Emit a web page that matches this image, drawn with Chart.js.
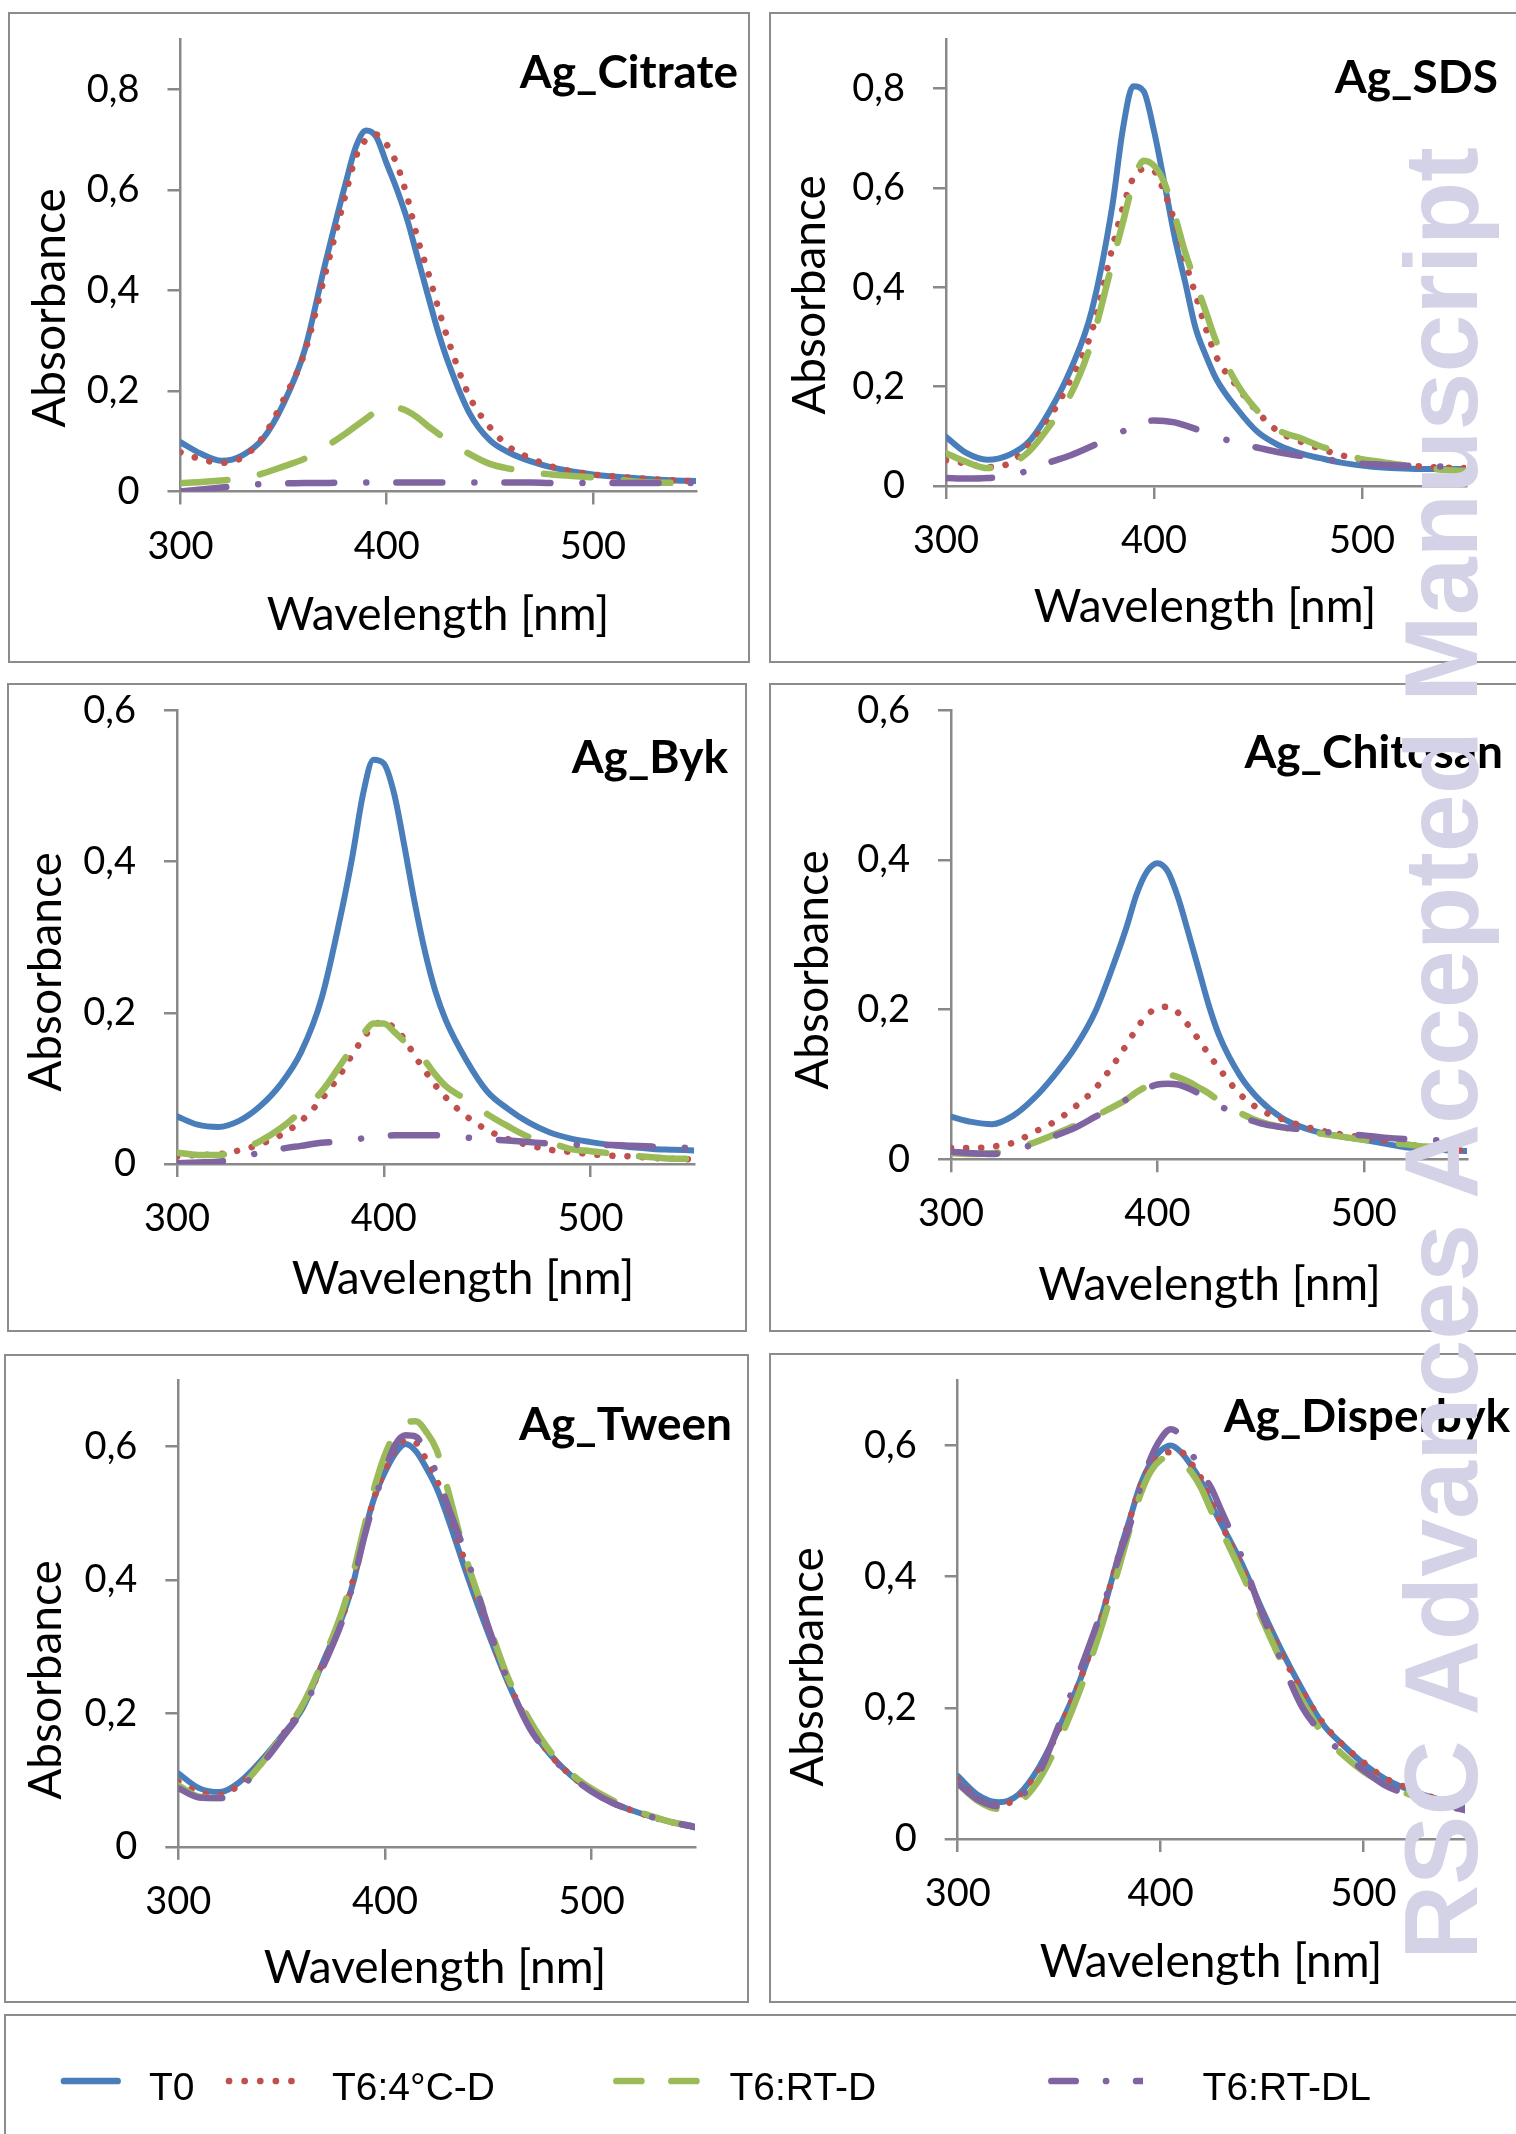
<!DOCTYPE html>
<html>
<head>
<meta charset="utf-8">
<title>UV-Vis spectra of Ag nanoparticles</title>
<script src="https://cdn.jsdelivr.net/npm/chart.js@4.4.1/dist/chart.umd.min.js"></script>
<style>
  html, body { margin: 0; padding: 0; background: #fff; }
  body { width: 1516px; height: 2134px; position: relative; overflow: hidden; }
  .panel { position: absolute; box-sizing: border-box; border: 2px solid #8c8c8c; }
  .panel canvas { position: absolute; left: -2px; top: -2px; }
  .watermark {
    position: absolute; left: 1389px; top: 1960px;
    transform-origin: 0 0; transform: rotate(-90deg);
    font: bold 104px "Liberation Sans", Arial, sans-serif; line-height: 1;
    color: #d3d2e7; white-space: nowrap; z-index: 10;
  }
</style>
</head>
<body>
<div class="watermark">RSC Advances Accepted Manuscript</div>
<script>
// ---- data (absorbance) ----
const wavelengths = [300, 310, 320, 330, 340, 350, 360, 370, 380, 385, 390, 395, 400, 405, 410, 415,
                     420, 425, 430, 440, 450, 460, 470, 480, 490, 500, 510, 520, 530, 540, 550];

const citrateT0   = [.098, .075, .061, .072, .105, .175, .278, .45, .612, .685, .718, .705, .652, .60, .54, .465, .39, .317, .255, .157, .102, .076, .06, .048, .04, .034, .03, .027, .024, .022, .021];
const citrate4CD  = [.078, .064, .057, .068, .108, .183, .274, .43, .59, .665, .70, .71, .69, .65, .585, .503, .437, .365, .299, .19, .128, .087, .066, .05, .04, .034, .03, .027, .024, .022, .02];
const citrateRTD  = [.017, .019, .022, .026, .036, .05, .065, .088, .115, .13, .145, .16, .17, .167, .16, .147, .13, .115, .1, .075, .055, .045, .038, .034, .031, .028, .025, .02, .018, .017, .016];
const citrateRTDL = [0, .004, .008, .012, .015, .016, .017, .017, .018, .018, .018, .018, .018, .018, .018, .018, .018, .018, .018, .018, .018, .018, .018, .017, .017, .017, .017, .017, .017, .017, .017];

const sdsT0   = [.099, .066, .053, .062, .09, .152, .235, .352, .565, .718, .805, .795, .715, .61, .50, .41, .318, .262, .215, .155, .108, .082, .066, .056, .047, .041, .037, .035, .034, .034, .034];
const sds4CD  = [.052, .045, .038, .045, .083, .139, .215, .31, .48, .56, .62, .638, .634, .591, .531, .453, .385, .316, .26, .2, .148, .109, .09, .075, .062, .053, .047, .042, .039, .037, .036];
const sdsRTD  = [.066, .048, .036, .042, .07, .122, .185, .29, .45, .53, .61, .655, .645, .61, .545, .47, .41, .35, .29, .205, .15, .112, .097, .08, .068, .054, .048, .042, .037, .032, .03];
const sdsRTDL = [.016, .015, .016, .02, .032, .048, .062, .08, .1, .11, .12, .128, .132, .131, .128, .122, .115, .107, .1, .086, .077, .068, .061, .055, .05, .045, .043, .041, .04, .039, .039];

const bykT0   = [.063, .052, .049, .057, .076, .105, .148, .22, .34, .41, .49, .535, .53, .49, .42, .345, .28, .228, .19, .137, .096, .073, .055, .042, .034, .029, .025, .022, .02, .019, .018];
const byk4CD  = [.01, .012, .013, .018, .026, .038, .057, .086, .123, .146, .166, .183, .188, .18, .165, .143, .123, .104, .088, .063, .045, .033, .025, .019, .016, .013, .011, .01, .008, .007, .006];
const bykRTD  = [.015, .012, .012, .018, .03, .047, .07, .096, .135, .155, .172, .186, .186, .175, .162, .149, .136, .118, .103, .085, .066, .05, .036, .029, .02, .017, .014, .011, .009, .007, .007];
const bykRTDL = [.001, .002, .003, .008, .015, .02, .024, .028, .03, .032, .034, .036, .037, .038, .038, .038, .038, .038, .037, .035, .033, .031, .029, .027, .026, .025, .025, .024, .023, .022, .021];

const chitosanT0   = [.057, .05, .047, .058, .081, .112, .149, .198, .27, .31, .355, .385, .396, .385, .35, .303, .254, .205, .165, .112, .078, .056, .043, .035, .03, .026, .021, .016, .014, .012, .011];
const chitosan4CD  = [.015, .015, .017, .022, .036, .05, .07, .095, .132, .153, .175, .193, .202, .204, .196, .179, .16, .14, .121, .087, .066, .054, .045, .038, .033, .029, .025, .02, .017, .014, .011];
const chitosanRTD  = [.008, .007, .008, .014, .022, .033, .045, .058, .072, .08, .09, .098, .106, .113, .11, .104, .096, .088, .078, .062, .05, .043, .038, .034, .03, .026, .023, .02, .017, .015, .014];
const chitosanRTDL = [.01, .008, .007, .012, .02, .031, .042, .057, .072, .08, .088, .095, .1, .101, .1, .095, .088, .08, .072, .058, .048, .043, .04, .037, .034, .032, .029, .027, .026, .025, .025];

const tweenT0   = [.11, .088, .082, .098, .129, .166, .207, .277, .35, .40, .47, .525, .562, .59, .604, .593, .568, .538, .497, .405, .32, .243, .18, .138, .107, .084, .066, .054, .044, .036, .029];
const tween4CD  = [.098, .082, .078, .094, .126, .166, .21, .275, .35, .405, .47, .525, .565, .595, .61, .606, .58, .55, .51, .415, .325, .245, .182, .138, .107, .084, .066, .054, .044, .036, .03];
const tweenRTD  = [.092, .075, .073, .09, .124, .166, .212, .28, .36, .415, .48, .54, .588, .62, .637, .638, .622, .595, .54, .425, .335, .25, .19, .143, .11, .087, .07, .056, .045, .036, .031];
const tweenRTDL = [.088, .074, .073, .088, .122, .162, .205, .27, .345, .40, .465, .52, .565, .603, .617, .615, .59, .56, .515, .43, .33, .245, .178, .137, .106, .083, .066, .054, .044, .036, .03];

const disperT0   = [.096, .067, .056, .068, .109, .17, .24, .33, .44, .49, .54, .573, .592, .60, .59, .57, .545, .51, .48, .42, .35, .285, .227, .175, .143, .115, .093, .078, .067, .058, .05];
const disper4CD  = [.09, .062, .052, .064, .105, .168, .24, .33, .44, .49, .538, .57, .585, .59, .59, .573, .55, .515, .48, .415, .347, .28, .225, .177, .143, .117, .094, .08, .068, .058, .05];
const disperRTD  = [.085, .058, .046, .055, .09, .15, .225, .315, .42, .475, .525, .56, .578, .583, .575, .56, .535, .50, .47, .405, .335, .268, .21, .16, .128, .103, .085, .071, .06, .052, .046];
const disperRTDL = [.085, .06, .05, .062, .10, .175, .255, .34, .435, .48, .535, .58, .61, .625, .615, .59, .56, .535, .50, .43, .343, .268, .20, .16, .13, .105, .083, .07, .06, .051, .044];

const seriesNames = ['T0', 'T6:4°C-D', 'T6:RT-D', 'T6:RT-DL'];
const xTicks = [300, 400, 500];
const yTicksHigh = [0, 0.2, 0.4, 0.6, 0.8];
const yTicksLow = [0, 0.2, 0.4, 0.6];

// ---- styles ----
const seriesColors = ['#4a7ebb', '#c0504d', '#9bbb59', '#8064a2'];
const seriesDash = [[], [0.1, 15], [47, 33], [46, 32, 0.1, 30]];
const legendDash = [[], [0.1, 15.5], [25, 30], [24.3, 30.3, 0.1, 30]];
const axisGray = '#898989';
const tickFont = { family: 'Lato', size: 38 };

// ---- panel layout (page coordinates) ----
const panels = [
  { title: 'Ag_Citrate', series: [citrateT0, citrate4CD, citrateRTD, citrateRTDL], yMax: 0.9, yTicks: yTicksHigh,
    box: [8, 12, 750, 663], area: [180.5, 39, 696, 491.5], titleAt: [738, 88], xTitleAt: [438, 630], yTitleAt: [65, 308] },
  { title: 'Ag_SDS', series: [sdsT0, sds4CD, sdsRTD, sdsRTDL], yMax: 0.9, yTicks: yTicksHigh,
    box: [769, 12, 1530, 663], area: [946, 39, 1466, 486], titleAt: [1498, 93], xTitleAt: [1205, 622], yTitleAt: [825, 295] },
  { title: 'Ag_Byk', series: [bykT0, byk4CD, bykRTD, bykRTDL], yMax: 0.6, yTicks: yTicksLow,
    box: [7, 683, 747, 1332], area: [177, 710.6, 694, 1164], titleAt: [728, 772.6], xTitleAt: [463, 1294], yTitleAt: [60.6, 972] },
  { title: 'Ag_Chitosan', series: [chitosanT0, chitosan4CD, chitosanRTD, chitosanRTDL], yMax: 0.6, yTicks: yTicksLow,
    box: [769, 683, 1530, 1332], area: [951, 710.6, 1467, 1159.3], titleAt: [1503, 768], xTitleAt: [1209.6, 1300], yTitleAt: [827.5, 970] },
  { title: 'Ag_Tween', series: [tweenT0, tween4CD, tweenRTD, tweenRTDL], yMax: 0.7, yTicks: yTicksLow,
    box: [4, 1354, 748.5, 2003], area: [178.3, 1380, 694.5, 1846.8], titleAt: [732, 1440], xTitleAt: [435, 1983], yTitleAt: [60.6, 1680] },
  { title: 'Ag_Disperbyk', series: [disperT0, disper4CD, disperRTD, disperRTDL], yMax: 0.7, yTicks: yTicksLow,
    box: [769, 1353, 1530, 2003], area: [957.7, 1380, 1465, 1839], titleAt: [1510, 1432], xTitleAt: [1211, 1977], yTitleAt: [822.7, 1667] }
];

// Draws panel title and axis titles at fixed spots (Excel places them freely)
const panelText = {
  id: 'panelText',
  afterDraw(chart, args, opts) {
    const ctx = chart.ctx;
    ctx.save();
    ctx.fillStyle = '#000';
    ctx.textBaseline = 'alphabetic';

    ctx.font = 'bold 46px Lato';
    ctx.textAlign = 'right';
    ctx.fillText(opts.title, opts.titleAt[0], opts.titleAt[1]);

    ctx.font = '46px Lato';
    ctx.textAlign = 'center';
    ctx.fillText('Wavelength [nm]', opts.xTitleAt[0], opts.xTitleAt[1]);

    ctx.translate(opts.yTitleAt[0], opts.yTitleAt[1]);
    ctx.rotate(-Math.PI / 2);
    ctx.fillText('Absorbance', 0, 0);
    ctx.restore();
  }
};

function formatTick(v) {
  return v === 0 ? '0' : String(v).replace('.', ',');
}

function buildPanel(p) {
  const [bl, bt, br, bb] = p.box;
  const [al, at, ar, ab] = p.area;
  const w = Math.round(br - bl), h = Math.round(bb - bt);

  const wrap = document.createElement('div');
  wrap.className = 'panel';
  wrap.style.left = bl + 'px';
  wrap.style.top = bt + 'px';
  wrap.style.width = w + 'px';
  wrap.style.height = h + 'px';
  const canvas = document.createElement('canvas');
  canvas.width = w;
  canvas.height = h;
  wrap.appendChild(canvas);
  document.body.appendChild(wrap);

  const datasets = p.series.map((values, i) => ({
    label: seriesNames[i],
    data: wavelengths.map((x, j) => ({ x: x, y: values[j] })),
    borderColor: seriesColors[i],
    borderWidth: i === 0 ? 6 : 6.5,
    borderDash: seriesDash[i],
    borderCapStyle: 'round',
    borderJoinStyle: 'round',
    cubicInterpolationMode: 'monotone',
    pointRadius: 0,
    fill: false,
    order: 3 - i
  }));

  new Chart(canvas, {
    type: 'line',
    data: { datasets: datasets },
    options: {
      responsive: false,
      maintainAspectRatio: false,
      animation: false,
      devicePixelRatio: 1,
      layout: { padding: { left: 0, bottom: 0, top: at - bt, right: br - ar } },
      plugins: {
        legend: { display: false },
        tooltip: { enabled: false },
        panelText: {
          title: p.title,
          titleAt: [p.titleAt[0] - bl, p.titleAt[1] - bt],
          xTitleAt: [p.xTitleAt[0] - bl, p.xTitleAt[1] - bt],
          yTitleAt: [p.yTitleAt[0] - bl, p.yTitleAt[1] - bt]
        }
      },
      scales: {
        x: {
          type: 'linear', min: 300, max: 550,
          afterBuildTicks: s => { s.ticks = xTicks.map(v => ({ value: v })); },
          afterFit: s => { s.height = bb - ab; s.paddingLeft = 0; s.paddingRight = 0; },
          grid: { drawOnChartArea: false, drawTicks: true, tickLength: 13, color: axisGray, lineWidth: 2.5 },
          border: { display: true, color: axisGray, width: 2.5 },
          ticks: { font: tickFont, color: '#000', padding: 19, maxRotation: 0, autoSkip: false }
        },
        y: {
          type: 'linear', min: 0, max: p.yMax,
          afterBuildTicks: s => { s.ticks = p.yTicks.map(v => ({ value: v })); },
          afterFit: s => { s.width = al - bl; s.paddingTop = 0; s.paddingBottom = 0; },
          grid: { drawOnChartArea: false, drawTicks: true, tickLength: 13, color: axisGray, lineWidth: 2.5 },
          border: { display: true, color: axisGray, width: 2.5 },
          ticks: { font: tickFont, color: '#000', padding: 28, callback: formatTick }
        }
      }
    },
    plugins: [panelText]
  });
}

panels.forEach(buildPanel);

// ---- shared legend box at the bottom ----
const legendSlots = [
  { x0: 64, x1: 117.6, textX: 149 },
  { x0: 229, x1: 291.5, textX: 332 },
  { x0: 616.4, x1: 698, textX: 729.5 },
  { x0: 1051.4, x1: 1160, clipRight: 1143, textX: 1202.6 }
];
const legendBox = [4, 2014, 1530, 2150];

const manualLegend = {
  id: 'manualLegend',
  afterDraw(chart) {
    const ctx = chart.ctx;
    const ox = legendBox[0], oy = legendBox[1];
    const lineY = 2081 - oy, textY = 2100 - oy;
    chart.data.datasets.forEach((ds, i) => {
      const slot = legendSlots[i];
      ctx.save();
      if (slot.clipRight) {
        ctx.beginPath();
        ctx.rect(0, 0, slot.clipRight - ox, chart.height);
        ctx.clip();
      }
      ctx.strokeStyle = ds.borderColor;
      ctx.lineWidth = 6.7;
      ctx.lineCap = 'round';
      ctx.setLineDash(legendDash[i]);
      ctx.beginPath();
      ctx.moveTo(slot.x0 - ox, lineY);
      ctx.lineTo(slot.x1 - ox, lineY);
      ctx.stroke();
      ctx.restore();

      ctx.save();
      ctx.fillStyle = '#000';
      ctx.font = '39px "Liberation Sans", Arial, sans-serif';
      ctx.textAlign = 'left';
      ctx.textBaseline = 'alphabetic';
      ctx.fillText(ds.label, slot.textX - ox, textY);
      ctx.restore();
    });
  }
};

(function buildLegend() {
  const [bl, bt, br, bb] = legendBox;
  const wrap = document.createElement('div');
  wrap.className = 'panel';
  wrap.style.left = bl + 'px';
  wrap.style.top = bt + 'px';
  wrap.style.width = (br - bl) + 'px';
  wrap.style.height = (bb - bt) + 'px';
  const canvas = document.createElement('canvas');
  canvas.width = br - bl;
  canvas.height = bb - bt;
  wrap.appendChild(canvas);
  document.body.appendChild(wrap);

  new Chart(canvas, {
    type: 'line',
    data: {
      datasets: seriesNames.map((name, i) => ({ label: name, data: [], borderColor: seriesColors[i] }))
    },
    options: {
      responsive: false,
      animation: false,
      devicePixelRatio: 1,
      plugins: { legend: { display: false }, tooltip: { enabled: false } },
      scales: { x: { display: false }, y: { display: false } }
    },
    plugins: [manualLegend]
  });
})();
</script>
</body>
</html>
